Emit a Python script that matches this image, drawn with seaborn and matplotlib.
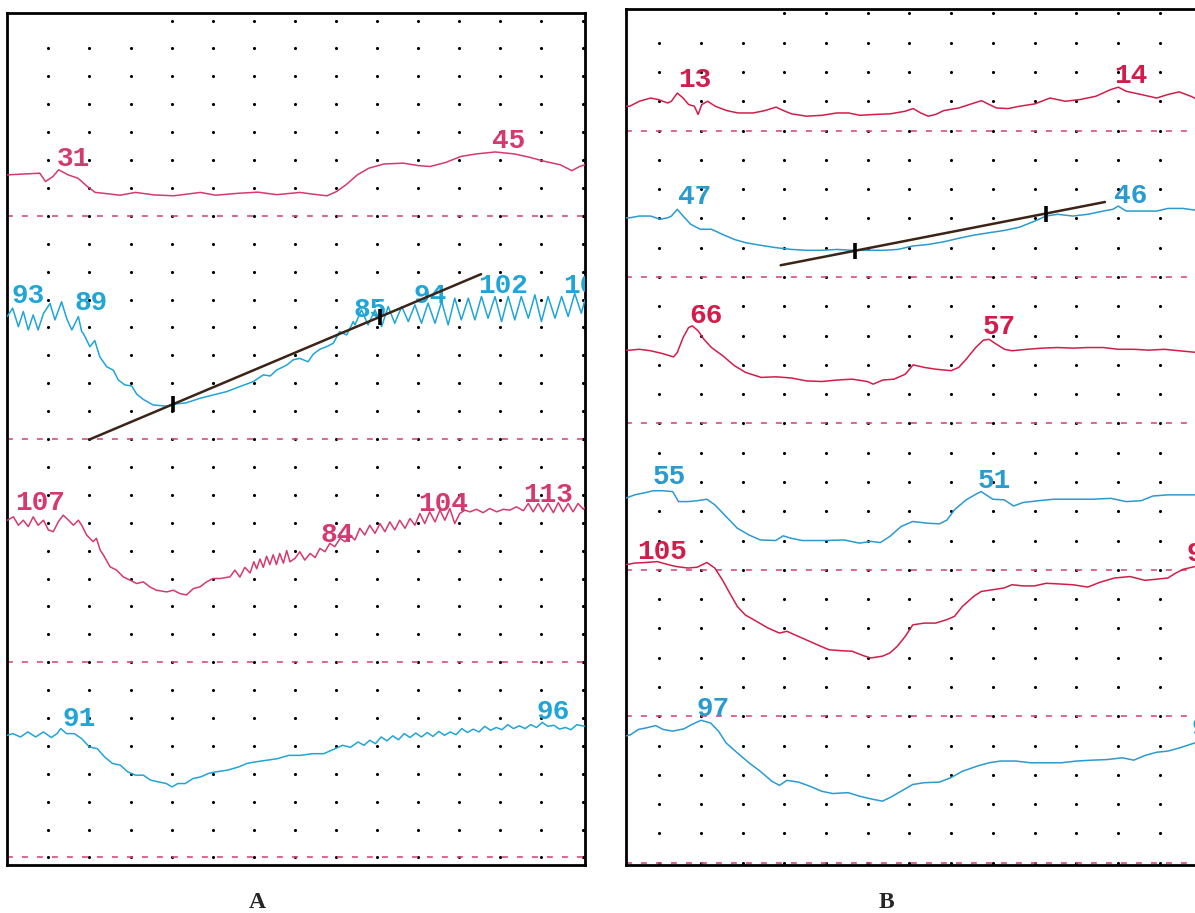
import pandas as pd
import seaborn as sns
import matplotlib.pyplot as plt

sns.set_theme(style="white")
plt.rcParams["font.family"] = ["Liberation Mono", "DejaVu Sans Mono"]

# ---- panel A traces: (time in grid columns, level in grid rows) ----
a1 = [(-1.0, 24.47), (-0.59, 24.5), (-0.21, 24.53), (-0.07, 24.23), (0.11, 24.41), (0.25, 24.65),
      (0.48, 24.47), (0.72, 24.35), (0.95, 24.05), (1.14, 23.84), (1.46, 23.79), (1.74, 23.74),
      (2.12, 23.84), (2.58, 23.75), (3.05, 23.72), (3.7, 23.84), (4.07, 23.74), (4.63, 23.81),
      (5.1, 23.85), (5.56, 23.76), (6.12, 23.84), (6.59, 23.75), (6.78, 23.72), (7.01, 23.87),
      (7.24, 24.11), (7.52, 24.47), (7.8, 24.71), (8.17, 24.86), (8.64, 24.89), (9.01, 24.8),
      (9.29, 24.77), (9.66, 24.91), (10.04, 25.13), (10.41, 25.22), (10.88, 25.29), (11.34, 25.22),
      (11.71, 25.1), (12.09, 24.95), (12.46, 24.83), (12.74, 24.62), (12.93, 24.77), (13.06, 24.83)]

a2 = [(-1.0, 19.4), (-0.87, 19.69), (-0.73, 19.03), (-0.61, 19.57), (-0.49, 18.91), (-0.37, 19.45),
      (-0.25, 18.91), (-0.12, 19.5), (0.04, 19.86), (0.16, 19.27), (0.32, 19.92), (0.45, 19.3),
      (0.57, 18.91), (0.73, 19.39), (0.81, 18.85), (0.85, 18.79), (1.01, 18.31), (1.13, 18.53),
      (1.25, 17.95), (1.42, 17.59), (1.58, 17.47), (1.7, 17.12), (1.86, 16.94), (2.03, 16.9),
      (2.15, 16.61), (2.31, 16.42), (2.55, 16.22), (2.88, 16.18), (3.12, 16.26), (3.36, 16.3),
      (3.69, 16.46), (4.01, 16.58), (4.34, 16.7), (4.66, 16.88), (4.99, 17.06), (5.23, 17.3),
      (5.4, 17.26), (5.55, 17.47), (5.8, 17.65), (5.96, 17.84), (6.12, 17.89), (6.32, 17.77),
      (6.45, 18.05), (6.61, 18.22), (6.77, 18.31), (6.93, 18.43), (7.09, 18.85), (7.26, 18.73),
      (7.42, 19.21), (7.46, 19.09), (7.62, 19.63), (7.78, 19.09), (7.95, 19.63), (8.11, 19.03),
      (8.27, 19.75), (8.43, 19.15), (8.6, 19.75), (8.76, 19.21), (8.92, 19.81), (9.08, 19.15),
      (9.24, 19.87), (9.41, 19.15), (9.57, 19.93), (9.73, 19.09), (9.89, 20.05), (10.05, 19.27),
      (10.22, 20.05), (10.38, 19.27), (10.54, 20.11), (10.7, 19.33), (10.87, 20.11), (11.03, 19.21),
      (11.19, 20.11), (11.35, 19.27), (11.51, 20.11), (11.68, 19.33), (11.84, 20.17), (12.0, 19.21),
      (12.16, 20.11), (12.33, 19.33), (12.49, 20.11), (12.65, 19.39), (12.81, 20.22), (12.97, 19.51),
      (13.06, 19.99)]

a3 = [(-1.0, 12.09), (-0.85, 12.21), (-0.73, 11.91), (-0.61, 12.09), (-0.49, 11.86), (-0.37, 12.21),
      (-0.25, 11.91), (-0.12, 12.09), (0.0, 11.74), (0.12, 11.68), (0.24, 12.03), (0.36, 12.27),
      (0.49, 12.09), (0.61, 11.91), (0.73, 12.09), (0.81, 11.91), (0.93, 11.56), (1.09, 11.32),
      (1.17, 11.44), (1.26, 11.02), (1.34, 10.84), (1.5, 10.42), (1.66, 10.3), (1.82, 10.06),
      (1.99, 9.94), (2.15, 9.82), (2.31, 9.88), (2.47, 9.7), (2.63, 9.58), (2.88, 9.52),
      (3.04, 9.58), (3.2, 9.46), (3.36, 9.41), (3.53, 9.64), (3.69, 9.7), (3.85, 9.88),
      (4.01, 10.0), (4.18, 10.0), (4.42, 10.06), (4.54, 10.3), (4.66, 10.05), (4.78, 10.4),
      (4.91, 10.2), (5.0, 10.6), (5.07, 10.35), (5.15, 10.7), (5.23, 10.4), (5.31, 10.8),
      (5.39, 10.5), (5.47, 10.85), (5.55, 10.5), (5.63, 10.9), (5.72, 10.55), (5.8, 11.0),
      (5.88, 10.6), (6.0, 10.72), (6.12, 10.96), (6.24, 10.66), (6.37, 10.9), (6.49, 10.75),
      (6.61, 11.08), (6.73, 10.96), (6.85, 11.26), (6.97, 11.14), (7.1, 11.44), (7.22, 11.32),
      (7.34, 11.56), (7.46, 11.38), (7.58, 11.8), (7.7, 11.56), (7.82, 11.91), (7.95, 11.62),
      (8.07, 11.97), (8.19, 11.68), (8.31, 12.03), (8.43, 11.74), (8.55, 12.09), (8.68, 11.8),
      (8.8, 12.15), (8.92, 11.91), (9.04, 12.33), (9.16, 11.97), (9.28, 12.39), (9.41, 12.03),
      (9.53, 12.45), (9.65, 12.09), (9.77, 12.51), (9.89, 11.97), (10.01, 12.33), (10.14, 12.45),
      (10.26, 12.39), (10.42, 12.48), (10.58, 12.36), (10.74, 12.51), (10.91, 12.39), (11.07, 12.48),
      (11.23, 12.45), (11.39, 12.57), (11.56, 12.43), (11.68, 12.69), (11.8, 12.39), (11.92, 12.69),
      (12.04, 12.39), (12.16, 12.69), (12.29, 12.36), (12.41, 12.72), (12.53, 12.39), (12.65, 12.69),
      (12.77, 12.39), (12.89, 12.69), (13.02, 12.48), (13.06, 12.55)]

a4 = [(-1.0, 4.38), (-0.87, 4.44), (-0.68, 4.32), (-0.5, 4.5), (-0.31, 4.32), (-0.12, 4.5),
      (0.07, 4.3), (0.21, 4.44), (0.3, 4.62), (0.44, 4.44), (0.63, 4.44), (0.81, 4.26),
      (1.0, 3.96), (1.19, 3.9), (1.37, 3.6), (1.56, 3.37), (1.75, 3.31), (1.93, 3.07),
      (2.12, 2.95), (2.31, 2.95), (2.49, 2.77), (2.68, 2.71), (2.87, 2.65), (3.01, 2.53),
      (3.15, 2.65), (3.33, 2.65), (3.52, 2.83), (3.71, 2.89), (3.89, 3.01), (4.08, 3.07),
      (4.36, 3.13), (4.64, 3.25), (4.83, 3.37), (5.01, 3.42), (5.29, 3.48), (5.57, 3.54),
      (5.85, 3.66), (6.13, 3.66), (6.42, 3.72), (6.7, 3.72), (6.98, 3.9), (7.16, 4.02),
      (7.35, 3.95), (7.54, 4.14), (7.68, 4.02), (7.82, 4.2), (7.96, 4.08), (8.1, 4.32),
      (8.24, 4.18), (8.38, 4.36), (8.52, 4.22), (8.66, 4.44), (8.8, 4.3), (8.94, 4.46),
      (9.08, 4.32), (9.22, 4.48), (9.36, 4.34), (9.5, 4.52), (9.64, 4.38), (9.78, 4.5),
      (9.92, 4.4), (10.06, 4.62), (10.2, 4.48), (10.34, 4.6), (10.48, 4.5), (10.62, 4.7),
      (10.76, 4.56), (10.9, 4.66), (11.04, 4.58), (11.18, 4.76), (11.32, 4.62), (11.46, 4.72),
      (11.6, 4.62), (11.74, 4.76), (11.88, 4.66), (12.02, 4.84), (12.16, 4.7), (12.3, 4.74),
      (12.44, 4.6), (12.58, 4.66), (12.72, 4.58), (12.86, 4.76), (13.06, 4.7)]

# ---- panel B traces ----
b1 = [(-0.8, 25.83), (-0.71, 25.83), (-0.48, 26.0), (-0.21, 26.11), (-0.03, 26.06), (0.2, 25.94),
      (0.29, 26.0), (0.43, 26.28), (0.57, 26.11), (0.7, 25.89), (0.84, 25.83), (0.93, 25.55),
      (1.02, 25.89), (1.16, 26.0), (1.34, 25.83), (1.62, 25.68), (1.89, 25.6), (2.25, 25.6),
      (2.53, 25.68), (2.8, 25.8), (2.98, 25.68), (3.17, 25.57), (3.53, 25.49), (3.9, 25.52),
      (4.26, 25.6), (4.54, 25.6), (4.81, 25.52), (5.17, 25.55), (5.54, 25.57), (5.9, 25.66),
      (6.09, 25.75), (6.27, 25.6), (6.45, 25.49), (6.63, 25.55), (6.82, 25.68), (7.18, 25.77),
      (7.55, 25.94), (7.73, 26.02), (7.91, 25.89), (8.09, 25.77), (8.37, 25.75), (8.64, 25.83),
      (9.01, 25.91), (9.37, 26.11), (9.74, 26.0), (10.1, 26.06), (10.47, 26.17), (10.83, 26.4),
      (11.01, 26.48), (11.2, 26.34), (11.56, 26.23), (11.93, 26.11), (12.2, 26.23), (12.47, 26.32),
      (12.75, 26.17), (12.91, 26.06)]

b2 = [(-0.8, 22.02), (-0.71, 22.02), (-0.48, 22.08), (-0.21, 22.08), (0.02, 21.97), (0.2, 22.02),
      (0.29, 22.08), (0.43, 22.31), (0.57, 22.08), (0.75, 21.8), (0.98, 21.63), (1.25, 21.63),
      (1.52, 21.45), (1.8, 21.28), (2.07, 21.17), (2.44, 21.08), (2.8, 21.0), (3.17, 20.94),
      (3.53, 20.91), (3.9, 20.91), (4.26, 20.94), (4.63, 20.91), (4.99, 20.91), (5.36, 20.91),
      (5.72, 20.94), (6.09, 21.06), (6.45, 21.11), (6.82, 21.2), (7.18, 21.32), (7.55, 21.43),
      (7.91, 21.51), (8.28, 21.59), (8.64, 21.7), (9.01, 21.91), (9.28, 22.08), (9.55, 22.14),
      (9.92, 22.08), (10.28, 22.14), (10.65, 22.25), (10.88, 22.31), (11.01, 22.42), (11.2, 22.25),
      (11.56, 22.25), (11.93, 22.25), (12.2, 22.34), (12.56, 22.34), (12.91, 22.27)]

b3 = [(-0.8, 17.5), (-0.71, 17.5), (-0.48, 17.53), (-0.21, 17.48), (0.06, 17.39), (0.34, 17.27),
      (0.43, 17.42), (0.57, 17.93), (0.7, 18.27), (0.79, 18.33), (0.93, 18.16), (1.07, 17.87),
      (1.25, 17.59), (1.52, 17.31), (1.8, 16.97), (2.07, 16.74), (2.44, 16.57), (2.8, 16.59),
      (3.17, 16.55), (3.53, 16.45), (3.9, 16.43), (4.26, 16.48), (4.63, 16.51), (4.99, 16.43),
      (5.13, 16.34), (5.36, 16.48), (5.63, 16.51), (5.9, 16.68), (6.09, 17.0), (6.36, 16.91),
      (6.63, 16.85), (7.0, 16.8), (7.18, 16.91), (7.36, 17.19), (7.59, 17.59), (7.77, 17.84),
      (7.91, 17.87), (8.09, 17.7), (8.28, 17.53), (8.46, 17.48), (8.82, 17.53), (9.19, 17.57),
      (9.55, 17.59), (9.92, 17.57), (10.28, 17.59), (10.65, 17.59), (11.01, 17.53), (11.38, 17.53),
      (11.74, 17.5), (12.11, 17.53), (12.47, 17.48), (12.91, 17.42)]

b4 = [(-0.85, 12.44), (-0.82, 12.44), (-0.59, 12.56), (-0.32, 12.64), (-0.14, 12.7), (0.09, 12.7),
      (0.32, 12.67), (0.46, 12.33), (0.69, 12.33), (0.91, 12.36), (1.14, 12.41), (1.33, 12.22),
      (1.6, 11.82), (1.87, 11.42), (2.15, 11.19), (2.42, 11.02), (2.79, 11.0), (2.97, 11.16),
      (3.15, 11.08), (3.43, 11.0), (3.98, 11.0), (4.43, 11.02), (4.8, 10.91), (5.07, 10.97),
      (5.3, 10.93), (5.53, 11.14), (5.8, 11.48), (6.08, 11.65), (6.44, 11.59), (6.72, 11.57),
      (6.9, 11.7), (7.08, 12.05), (7.36, 12.39), (7.63, 12.61), (7.72, 12.67), (8.0, 12.41),
      (8.27, 12.39), (8.5, 12.18), (8.73, 12.3), (9.1, 12.36), (9.46, 12.41), (10.01, 12.41),
      (10.38, 12.41), (10.83, 12.44), (11.2, 12.33), (11.56, 12.36), (11.84, 12.52), (12.2, 12.56),
      (12.85, 12.56)]

b5 = [(-0.85, 10.17), (-0.82, 10.17), (-0.59, 10.23), (-0.32, 10.25), (-0.05, 10.28), (0.23, 10.17),
      (0.41, 10.11), (0.69, 10.06), (0.91, 10.09), (1.14, 10.25), (1.33, 10.06), (1.51, 9.66),
      (1.69, 9.2), (1.87, 8.75), (2.06, 8.46), (2.33, 8.24), (2.61, 8.01), (2.88, 7.84),
      (3.06, 7.9), (3.25, 7.78), (3.52, 7.61), (3.79, 7.44), (4.07, 7.27), (4.34, 7.24),
      (4.62, 7.22), (4.89, 7.07), (5.07, 6.99), (5.35, 7.05), (5.53, 7.16), (5.71, 7.39),
      (5.9, 7.73), (6.08, 8.12), (6.35, 8.18), (6.63, 8.18), (6.9, 8.3), (7.08, 8.41),
      (7.27, 8.75), (7.54, 9.09), (7.72, 9.26), (8.0, 9.32), (8.27, 9.38), (8.46, 9.49),
      (8.73, 9.45), (9.0, 9.45), (9.28, 9.54), (9.55, 9.52), (9.92, 9.49), (10.28, 9.41),
      (10.56, 9.57), (10.92, 9.72), (11.29, 9.77), (11.65, 9.64), (11.93, 9.68), (12.2, 9.72),
      (12.39, 9.89), (12.57, 10.02), (12.85, 10.11)]

b6 = [(-0.85, 4.32), (-0.82, 4.32), (-0.69, 4.37), (-0.5, 4.55), (-0.32, 4.6), (-0.09, 4.68),
      (0.09, 4.55), (0.32, 4.49), (0.59, 4.57), (0.78, 4.72), (1.0, 4.86), (1.23, 4.77),
      (1.42, 4.49), (1.6, 4.09), (1.87, 3.75), (2.15, 3.41), (2.42, 3.12), (2.7, 2.78),
      (2.88, 2.64), (3.06, 2.81), (3.34, 2.75), (3.61, 2.61), (3.89, 2.44), (4.16, 2.36),
      (4.53, 2.39), (4.8, 2.27), (5.07, 2.18), (5.35, 2.1), (5.53, 2.22), (5.8, 2.44),
      (6.08, 2.67), (6.35, 2.73), (6.72, 2.75), (6.99, 2.9), (7.27, 3.12), (7.63, 3.3),
      (7.91, 3.41), (8.18, 3.47), (8.55, 3.47), (8.91, 3.41), (9.28, 3.41), (9.64, 3.41),
      (10.01, 3.47), (10.38, 3.5), (10.74, 3.52), (11.11, 3.58), (11.38, 3.5), (11.65, 3.66),
      (11.93, 3.77), (12.2, 3.81), (12.48, 3.92), (12.85, 4.09)]

# value annotations: (text, time, level) - centred on the number
labels_a1 = [("31", 0.62, 25.1), ("45", 11.2, 25.75)]
labels_a2 = [("93", -0.5, 20.2), ("89", 1.05, 19.93), ("85", 7.83, 19.71),
             ("94", 9.28, 20.21), ("102", 11.07, 20.57)]
labels_a3 = [("107", -0.2, 12.78), ("84", 7.03, 11.62), ("104", 9.61, 12.73), ("113", 12.16, 13.05)]
labels_a4 = [("91", 0.75, 5.05), ("96", 12.28, 5.27)]
labels_b1 = [("13", 0.84, 26.8), ("14", 11.3, 26.93)]
labels_b2 = [("47", 0.84, 22.8), ("46", 11.3, 22.84)]
labels_b3 = [("66", 1.11, 18.76), ("57", 8.16, 18.36)]
labels_b4 = [("55", 0.23, 13.24), ("51", 8.04, 13.12)]
labels_b5 = [("105", 0.06, 10.68)]
labels_b6 = [("97", 1.28, 5.34)]
# numbers running off the right edge of the strip: (text, left edge, level)
edge_a2 = [("10", 12.52, 20.57)]
edge_b5 = [("9", 12.64, 10.62)]
edge_b6 = [("9", 12.76, 4.63)]

# hand-drawn slope lines and their tick marks
fit_a = [(1.01, 14.99), (10.53, 20.91)]
ticks_a = [(3.04, 16.25), (8.07, 19.36)]
fit_b = [(2.91, 20.4), (10.69, 22.56)]
ticks_b = [(4.7, 20.88), (9.28, 22.16)]

baselines_a = [0, 7, 15, 23]
baselines_b = [0, 5, 10, 15, 20, 25]

PINK = "#d6396f"
RED = "#d21d4b"
CYAN = "#1fa5d8"
BLUE = "#2a9bd1"
DASH = "#db4a7c"

W, H = 1195, 913
fig = plt.figure(figsize=(W / 100, H / 100), dpi=100)
axA = fig.add_axes([7.3 / W, 1 - 865 / H, (585 - 7.3) / W, (865 - 12.5) / H])
axB = fig.add_axes([626 / W, 1 - 865 / H, (W - 626) / W, (865 - 9.3) / H])


def paper(ax, ncols, nrows, xlim, ylim, baselines):
    # recorder chart: dot grid + dashed channel baselines
    xs, ys = [], []
    for r in range(nrows + 1):
        for c in range(ncols + 1):
            if r == nrows and c < 3:
                continue
            xs.append(c)
            ys.append(r)
    ax.scatter(xs, ys, s=5, color="black", linewidths=0, zorder=1)
    for b in baselines:
        ax.axhline(b, color=DASH, lw=1.2, ls=(0, (3.5, 5.5)), zorder=2)
    ax.set_xlim(*xlim)
    ax.set_ylim(*ylim)
    ax.set_xticks([])
    ax.set_yticks([])
    ax.set_xlabel("")
    ax.set_ylabel("")
    ax.set_facecolor("white")
    for s in ax.spines.values():
        s.set_color("black")
        s.set_linewidth(2)


def trace(ax, pts, color, labels, edge=()):
    df = pd.DataFrame(pts, columns=["t", "v"])
    sns.lineplot(data=df, x="t", y="v", ax=ax, color=color, lw=1.1,
                 estimator=None, sort=False, legend=False, zorder=3)
    for txt, x, y in labels:
        ax.text(x, y - 0.32, txt, color=color, fontsize=20, fontweight="bold",
                ha="center", va="baseline", zorder=4, clip_on=True)
    for txt, x, y in edge:
        ax.text(x, y - 0.32, txt, color=color, fontsize=20, fontweight="bold",
                ha="left", va="baseline", zorder=4, clip_on=True)


def slope(ax, line, ticks):
    lx, ly = zip(*line)
    ax.plot(lx, ly, color="#3b2417", lw=1.8, zorder=5)
    tx, ty = zip(*ticks)
    ax.plot(tx, ty, ls="none", marker="|", ms=12, mew=2.6, color="black", zorder=6)


paper(axA, 13, 30, (-1.0, 13.06), (-0.27, 30.29), baselines_a)
trace(axA, a1, PINK, labels_a1)
trace(axA, a2, CYAN, labels_a2, edge_a2)
trace(axA, a3, PINK, labels_a3)
trace(axA, a4, CYAN, labels_a4)
slope(axA, fit_a, ticks_a)

paper(axB, 12, 29, (-0.8, 12.85), (-0.08, 29.14), baselines_b)
axB.spines["right"].set_visible(False)
trace(axB, b1, RED, labels_b1)
trace(axB, b2, BLUE, labels_b2)
trace(axB, b3, RED, labels_b3)
trace(axB, b4, BLUE, labels_b4)
trace(axB, b5, RED, labels_b5, edge_b5)
trace(axB, b6, BLUE, labels_b6, edge_b6)
slope(axB, fit_b, ticks_b)

fig.text(257 / W, 1 - 902 / H, "A", ha="center", va="center", fontsize=17,
         fontweight="bold", family="Liberation Serif")
fig.text(886 / W, 1 - 902 / H, "B", ha="center", va="center", fontsize=17,
         fontweight="bold", family="Liberation Serif")

fig.savefig("out.png", dpi=100)
